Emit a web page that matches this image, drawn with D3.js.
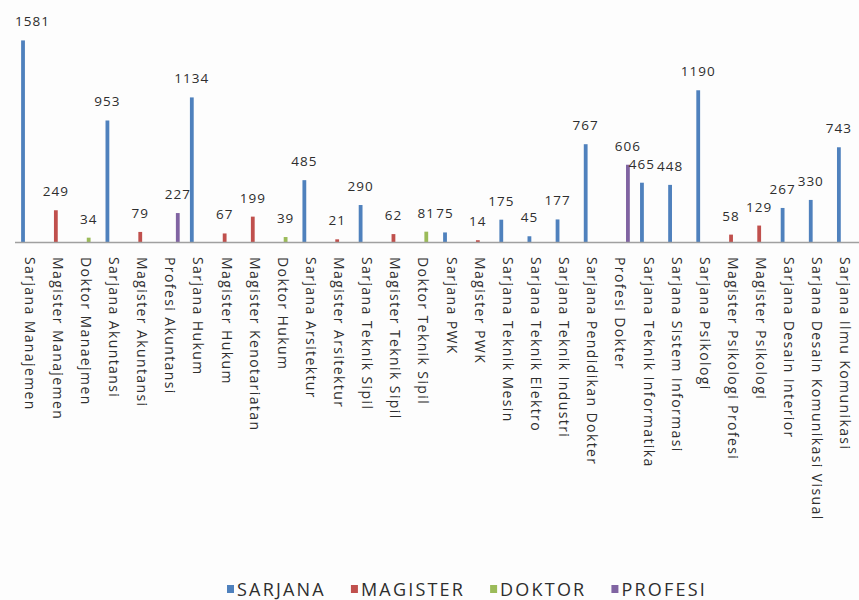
<!DOCTYPE html>
<html>
<head>
<meta charset="utf-8">
<script src="https://cdn.jsdelivr.net/npm/d3@7"></script>
<style>
  body { margin: 0; background: #fdfdfd; }
  svg text { font-family: "Open Sans", "DejaVu Sans", sans-serif; fill: #2e2e2e; }
</style>
</head>
<body>
<svg id="chart" width="859" height="600"></svg>
<script>
// program studi (x axis)
var categories = [
  'Sarjana Manajemen', 'Magister Manajemen', 'Doktor Manaejmen', 'Sarjana Akuntansi',
  'Magister Akuntansi', 'Profesi Akuntansi', 'Sarjana Hukum', 'Magister Hukum',
  'Magister Kenotariatan', 'Doktor Hukum', 'Sarjana Arsitektur', 'Magister Arsitektur',
  'Sarjana Teknik Sipil', 'Magister Teknik Sipil', 'Doktor Teknik Sipil', 'Sarjana PWK',
  'Magister PWK', 'Sarjana Teknik Mesin', 'Sarjana Teknik Elektro', 'Sarjana Teknik Industri',
  'Sarjana Pendidikan Dokter', 'Profesi Dokter', 'Sarjana Teknik Informatika',
  'Sarjana Sistem Informasi', 'Sarjana Psikologi', 'Magister Psikologi Profesi',
  'Magister Psikologi', 'Sarjana Desain Interior', 'Sarjana Desain Komunikasi Visual',
  'Sarjana Ilmu Komunikasi'
];

var series = ['SARJANA', 'MAGISTER', 'DOKTOR', 'PROFESI'];
var colors = ['#4f81bd', '#c0504d', '#9bbb59', '#8064a2'];

// jenjang of each category (index into series) and its value
var level = [0, 1, 2, 0, 1, 3, 0, 1, 1, 2, 0, 1, 0, 1, 2, 0, 1, 0, 0, 0, 0, 3, 0, 0, 0, 1, 1, 0, 0, 0];
var values = [1581, 249, 34, 953, 79, 227, 1134, 67, 199, 39, 485, 21, 290, 62, 81, 75,
              14, 175, 45, 177, 767, 606, 465, 448, 1190, 58, 129, 267, 330, 743];

var data = categories.map(function(c, i) {
  return { cat: c, s: series[level[i]], v: values[i] };
});

var svg = d3.select('#chart');
var left = 15, right = 859, base = 242;

var x0 = d3.scaleBand()
  .domain(categories)
  .range([left, right]);

// the four series slots inside each category (Excel clustered layout)
var c0 = x0.bandwidth() / 2;
var x1 = d3.scaleBand()
  .domain(series)
  .range([c0 - 8.4, c0 + 10.4]);

var y = d3.scaleLinear()
  .domain([0, 1800])
  .range([base, 12.5]);

var barW = 3.8;

var g = svg.append('g');

g.selectAll('rect.bar')
  .data(data)
  .enter().append('rect')
    .attr('class', 'bar')
    .attr('x', function(d) { return x0(d.cat) + x1(d.s) + x1.bandwidth() / 2 - barW / 2; })
    .attr('y', function(d) { return y(d.v); })
    .attr('width', barW)
    .attr('height', function(d) { return base - y(d.v); })
    .attr('fill', function(d) { return colors[series.indexOf(d.s)]; });

// axis line
svg.append('line')
  .attr('x1', left).attr('x2', right)
  .attr('y1', base + 0.5).attr('y2', base + 0.5)
  .attr('stroke', '#a0a0a0')
  .attr('stroke-width', 1.6);

// value labels
g.selectAll('text.val')
  .data(data)
  .enter().append('text')
    .attr('class', 'val')
    .attr('x', function(d) { return x0(d.cat) + x1(d.s) + x1.bandwidth() / 2; })
    .attr('y', function(d) { return y(d.v) - 14; })
    .attr('text-anchor', 'middle')
    .style('font-size', '13.5px')
    .style('letter-spacing', '1px')
    .text(function(d) { return d.v; })
    .each(function() {
      // keep label inside the plot area
      var b = this.getBBox();
      if (b.x < left) d3.select(this).attr('x', +d3.select(this).attr('x') + (left - b.x));
    });

// category labels, rotated
svg.append('g').selectAll('text.cat')
  .data(categories)
  .enter().append('text')
    .attr('class', 'cat')
    .attr('transform', function(d) { return 'translate(' + (x0(d) + c0 + 1) + ',257) rotate(90)'; })
    .attr('dominant-baseline', 'central')
    .style('font-size', '14px')
    .style('letter-spacing', '1.4px')
    .text(function(d) { return d; });

// legend
var leg = svg.append('g');
var lx = 0;
series.forEach(function(s, i) {
  var it = leg.append('g').attr('transform', 'translate(' + lx + ',0)');
  it.append('rect')
    .attr('x', 0).attr('y', -4)
    .attr('width', 7).attr('height', 8)
    .attr('fill', colors[i]);
  var t = it.append('text')
    .attr('x', 10)
    .attr('dominant-baseline', 'central')
    .style('font-size', '18px')
    .style('letter-spacing', '2.2px')
    .text(s);
  lx += 10 + t.node().getComputedTextLength() + 25;
});
leg.attr('transform', 'translate(227,589)');
</script>
</body>
</html>
